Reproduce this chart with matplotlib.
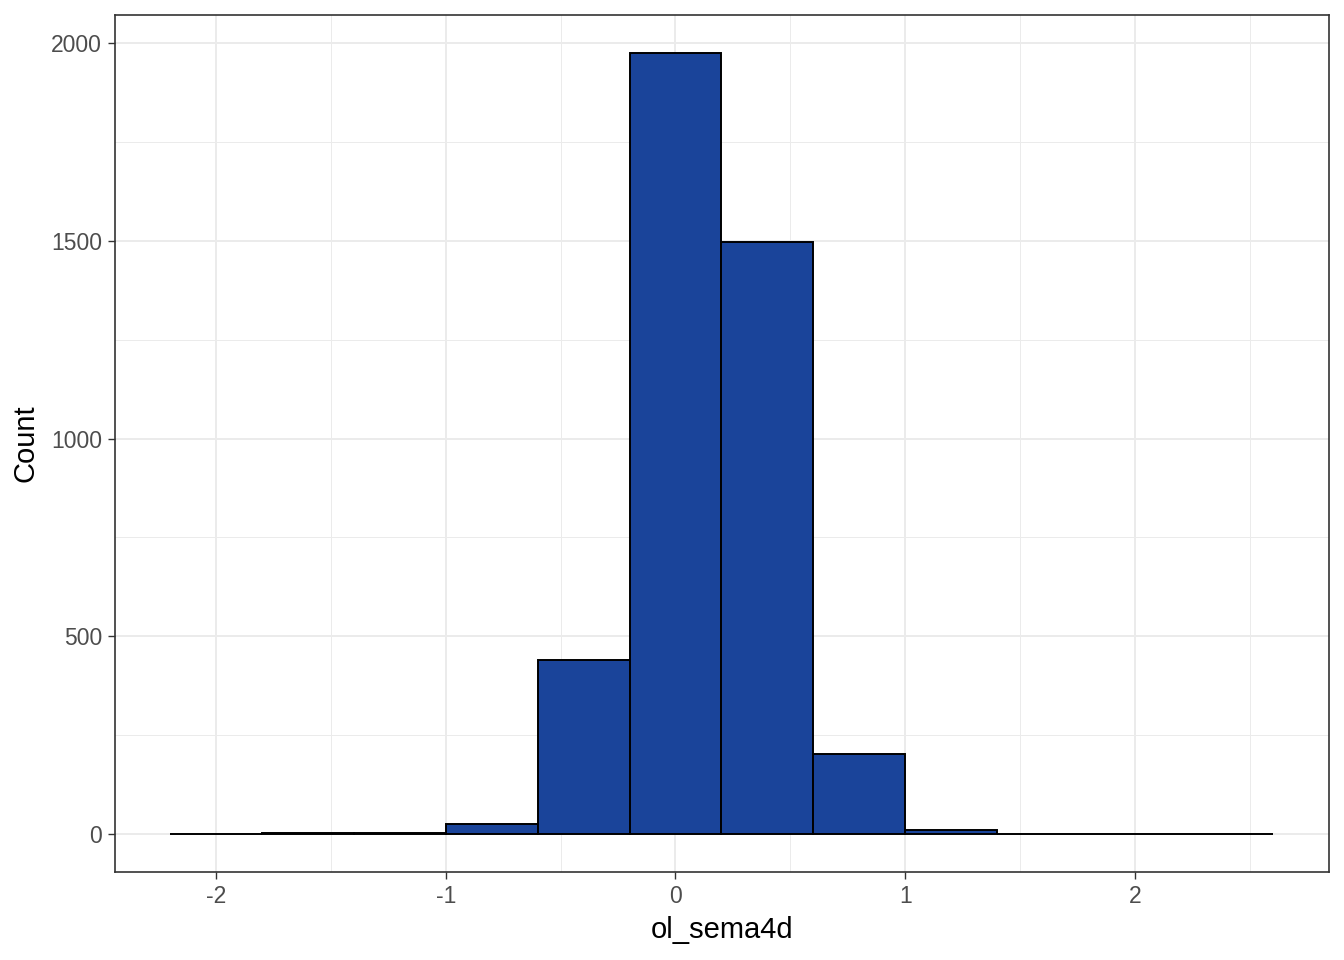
import matplotlib
matplotlib.use("Agg")
import matplotlib.pyplot as plt
import numpy as np

# histogram of ol_sema4d, bins of width 0.4
bin_edges = [-2.2, -1.8, -1.4, -1.0, -0.6, -0.2, 0.2, 0.6, 1.0, 1.4, 1.8, 2.2, 2.6]
counts = [0, 2, 3, 25, 440, 1975, 1497, 202, 11, 0, 0, 0]
x_ticks = [-2, -1, 0, 1, 2]
y_ticks = [0, 500, 1000, 1500, 2000]

plt.rcParams['font.family'] = ['Liberation Sans', 'DejaVu Sans']

fig = plt.figure(figsize=(13.44, 9.6), dpi=100)
ax = fig.add_axes([115/1344, 88/960, (1328.5-115)/1344, (872-15)/960])

lefts = np.array(bin_edges[:-1])
widths = np.diff(bin_edges)
ax.bar(lefts, counts, width=widths, align='edge', color='#1A449A',
       edgecolor='black', linewidth=1.4, zorder=3)

ax.set_xticks(x_ticks)
ax.set_xticklabels([str(v) for v in x_ticks])
ax.set_yticks(y_ticks)
ax.set_xticks([-1.5, -0.5, 0.5, 1.5, 2.5], minor=True)
ax.set_yticks([250, 750, 1250, 1750], minor=True)
# limits after ticks so set_xticks does not widen the view
ax.set_xlim(-2.44, 2.843)
ax.set_ylim(-96, 2071)

ax.grid(True, which='major', color='#EBEBEB', linewidth=1.4, zorder=0)
ax.grid(True, which='minor', color='#EBEBEB', linewidth=0.7, zorder=0)
ax.set_axisbelow(True)

ax.tick_params(which='major', length=5.3, width=1.0, color='#333333',
               labelsize=16.5, labelcolor='#4D4D4D', pad=4)
ax.tick_params(which='minor', length=0)
for s in ax.spines.values():
    s.set_color('#333333')
    s.set_linewidth(1.2)

ax.set_xlabel("ol_sema4d", fontsize=21, labelpad=6)
ax.set_ylabel("Count", fontsize=21, labelpad=8)

fig.savefig("out.png", dpi=100)
